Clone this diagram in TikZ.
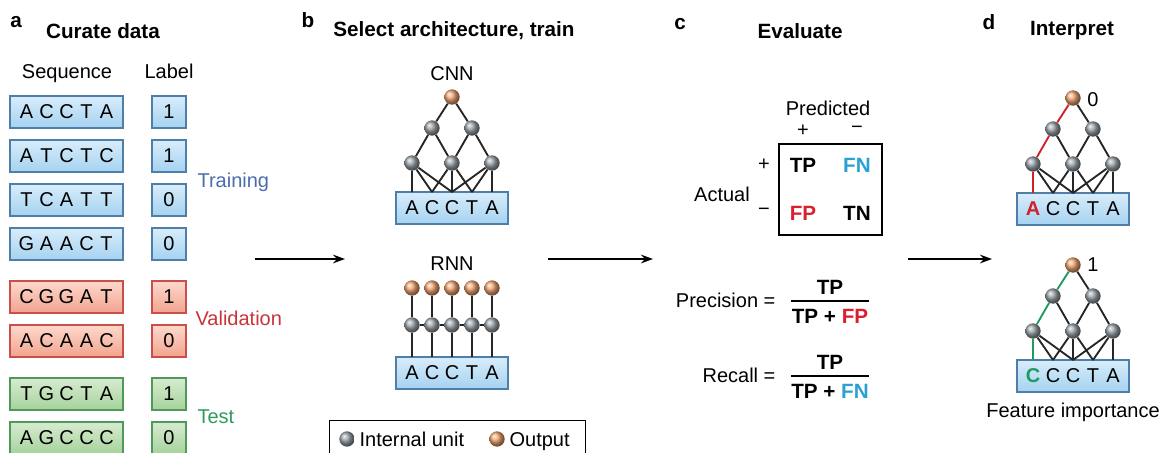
\documentclass[tikz,border=0pt]{standalone}
\usepackage{fontspec}
\setmainfont{Liberation Sans}
\usetikzlibrary{arrows.meta}

\definecolor{bluetop}{HTML}{D8EDFB}
\definecolor{bluebot}{HTML}{A5D2F0}
\definecolor{blueline}{HTML}{4F7FA8}
\definecolor{redtop}{HTML}{FCD9CC}
\definecolor{redbot}{HTML}{F2A38E}
\definecolor{redline}{HTML}{C9504A}
\definecolor{greentop}{HTML}{D7ECD1}
\definecolor{greenbot}{HTML}{A6D29B}
\definecolor{greenline}{HTML}{4F9A5A}
\definecolor{trainblue}{HTML}{4B6CAD}
\definecolor{valred}{HTML}{C8333C}
\definecolor{testgreen}{HTML}{2E9A5C}
\definecolor{fnblue}{HTML}{2AA0D4}
\definecolor{fpred}{HTML}{D8202F}
\definecolor{unitgray}{HTML}{9AA3A9}
\definecolor{unitorange}{HTML}{F2A672}
\definecolor{pathred}{HTML}{D0202A}
\definecolor{pathgreen}{HTML}{1F9A60}

% five letters, evenly spaced
\newcommand\sq[5]{\makebox[15pt]{#1}\makebox[15pt]{#2}\makebox[15pt]{#3}\makebox[15pt]{#4}\makebox[15pt]{#5}}

% small convolutional net: prefix, position, letters, colour of the left path
\newcommand\convnet[4]{%
  \begin{scope}[shift={(#2)}]
    \node[boxblue, netbox] (#1-in) at (0,111) {#3};
    \node[outunit] (#1-o) at (0,0) {};
    \node[unit] (#1-h1) at (-20,31) {};
    \node[unit] (#1-h2) at (20,31) {};
    \foreach \i/\x in {1/-40,2/0,3/40} \node[unit] (#1-l\i) at (\x,66) {};
    \foreach \i/\x in {1/-40,2/-20,3/0,4/20,5/40} \coordinate (#1-p\i) at (\x,95);
    \draw[link] (#1-o) -- (#1-h2) (#1-h1) -- (#1-l2) (#1-h2) -- (#1-l2) (#1-h2) -- (#1-l3);
    \foreach \a/\b in {1/2,1/3,2/2,2/3,2/4,3/3,3/4,3/5} \draw[link] (#1-l\a) -- (#1-p\b);
    \draw[link, draw=#4] (#1-o) -- (#1-h1) -- (#1-l1) -- (#1-p1);
  \end{scope}}

\tikzset{
  txt/.style={inner sep=1pt, font=\fontsize{15}{18}\selectfont},
  bld/.style={inner sep=1pt, font=\bfseries\fontsize{15.5}{18}\selectfont},
  letter/.style={inner sep=0pt, line width=0.8pt, font=\fontsize{15}{17}\selectfont},
  boxblue/.style={letter, draw=blueline, top color=bluetop, bottom color=bluebot},
  boxred/.style={letter, draw=redline, top color=redtop, bottom color=redbot},
  boxgreen/.style={letter, draw=greenline, top color=greentop, bottom color=greenbot},
  seqbox/.style={minimum width=84.75pt, minimum height=24pt},
  labbox/.style={minimum width=25.5pt, minimum height=24pt},
  netbox/.style={minimum width=84pt, minimum height=24pt},
  unit/.style={circle, inner sep=0pt, minimum size=11.5pt, ball color=unitgray},
  outunit/.style={circle, inner sep=0pt, minimum size=11.5pt, ball color=unitorange},
  link/.style={line width=1.4pt, draw=black!85},
  arr/.style={-{Stealth[length=9pt, width=6.5pt]}, line width=1pt}
}

\begin{document}
\begin{tikzpicture}[x=0.75pt, y=-0.75pt]
\clip (0,0) rectangle (1168,453);

% a
\node[bld] (la) at (16,22) {a};
\node[bld] (ta) at (103,31) {Curate data};
\node[txt, anchor=base] (hseq) at (67,79) {Sequence};
\node[txt, anchor=base] (hlab) at (169,79) {Label};
\foreach \s/\l/\y/\c [count=\i] in {ACCTA/1/112/blue, ATCTC/1/156/blue, TCATT/0/200/blue,
    GAACT/0/244/blue, CGGAT/1/297/red, ACAAC/0/341/red, TGCTA/1/394/green, AGCCC/0/438/green} {
  \node[box\c, seqbox] (seq\i) at (66.5,\y) {\expandafter\sq\s};
  \node[box\c, labbox] (lab\i) at (169,\y) {\l};
}
\node[txt, text=trainblue, anchor=base west] (train) at (196,187) {Training};
\node[txt, text=valred, anchor=base west] (valid) at (194,325) {Validation};
\node[txt, text=testgreen, anchor=base west] (test) at (196,423) {Test};

% arrows between panels
\coordinate (ab1) at (255,259); \coordinate (ab2) at (345,259);
\coordinate (bc1) at (548,259); \coordinate (bc2) at (653,259);
\coordinate (cd1) at (908,259); \coordinate (cd2) at (992,259);
\draw[arr] (ab1) -- (ab2);
\draw[arr] (bc1) -- (bc2);
\draw[arr] (cd1) -- (cd2);

% b
\node[bld] (lb) at (308,20) {b};
\node[bld] (tb) at (454,31) {Select architecture, train};
\node[txt] (cnnlab) at (452,74) {CNN};
\convnet{cnn}{452,97}{\sq ACCTA}{black!85}

\node[txt] (rnnlab) at (452,264) {RNN};
\begin{scope}[shift={(452,288)}]
  \node[boxblue, netbox] (rnn-in) at (0,85) {\sq ACCTA};
  \foreach \i/\x in {1/-40,2/-20,3/0,4/20,5/40} {
    \node[outunit] (rnn-o\i) at (\x,0) {};
    \node[unit] (rnn-h\i) at (\x,37) {};
    \coordinate (rnn-p\i) at (\x,69);
  }
  \foreach \i in {1,...,5} \draw[link] (rnn-o\i) -- (rnn-h\i) -- (rnn-p\i);
  \foreach \i/\j in {1/2,2/3,3/4,4/5} \draw[link] (rnn-h\i) -- (rnn-h\j);
\end{scope}

% legend
\node[draw, line width=0.8pt, minimum width=192pt, minimum height=36pt, anchor=north west] (legend) at (329,420) {};
\node[unit] (kint) at (347,439) {};
\node[txt, anchor=base west] (kintlab) at (358,446) {Internal unit};
\node[outunit] (kout) at (497,439) {};
\node[txt, anchor=base west] (koutlab) at (508,446) {Output};

% c
\node[bld] (lc) at (680,24) {c};
\node[bld] (tc) at (800,31) {Evaluate};
\node[txt] (pred) at (828,108) {Predicted};
\node[txt] (pplus) at (803,131) {+};
\node[txt] (pminus) at (857,130) {−};
\node[draw, line width=0.8pt, minimum width=77.25pt, minimum height=68.25pt] (cm) at (830.5,189.5) {};
\node[bld] (tp) at (803,165) {TP};
\node[bld, text=fnblue] (fn) at (857,165) {FN};
\node[bld, text=fpred] (fp) at (803,213) {FP};
\node[bld] (tn) at (857,213) {TN};
\node[txt] (aplus) at (764,165) {+};
\node[txt] (aminus) at (764,212) {−};
\node[txt] (actual) at (722,194) {Actual};

\node[txt, anchor=east] (prec) at (777,300) {Precision =};
\node[bld] (pnum) at (830,287) {TP};
\node[bld] (pden) at (830,316) {TP + \textcolor{fpred}{FP}};
\coordinate (pb1) at (791,301); \coordinate (pb2) at (869,301);
\draw[line width=1.1pt] (pb1) -- (pb2);

\node[txt, anchor=east] (rec) at (777,375) {Recall =};
\node[bld] (rnum) at (830,362) {TP};
\node[bld] (rden) at (830,391) {TP + \textcolor{fnblue}{FN}};
\coordinate (rb1) at (791,376); \coordinate (rb2) at (869,376);
\draw[line width=1.1pt] (rb1) -- (rb2);

% d
\node[bld] (ld) at (989,22) {d};
\node[bld] (td) at (1072,31) {Interpret};
\convnet{ia}{1073,98}{\sq{\textcolor{pathred}{\textbf{A}}}CCTA}{pathred}
\node[txt] (iaval) at (1093,100) {0};
\convnet{ib}{1073,265}{\sq{\textcolor{pathgreen}{\textbf{C}}}CCTA}{pathgreen}
\node[txt] (ibval) at (1093,265) {1};
\node[txt] (fimp) at (1073,412) {Feature importance};
\end{tikzpicture}
\end{document}
